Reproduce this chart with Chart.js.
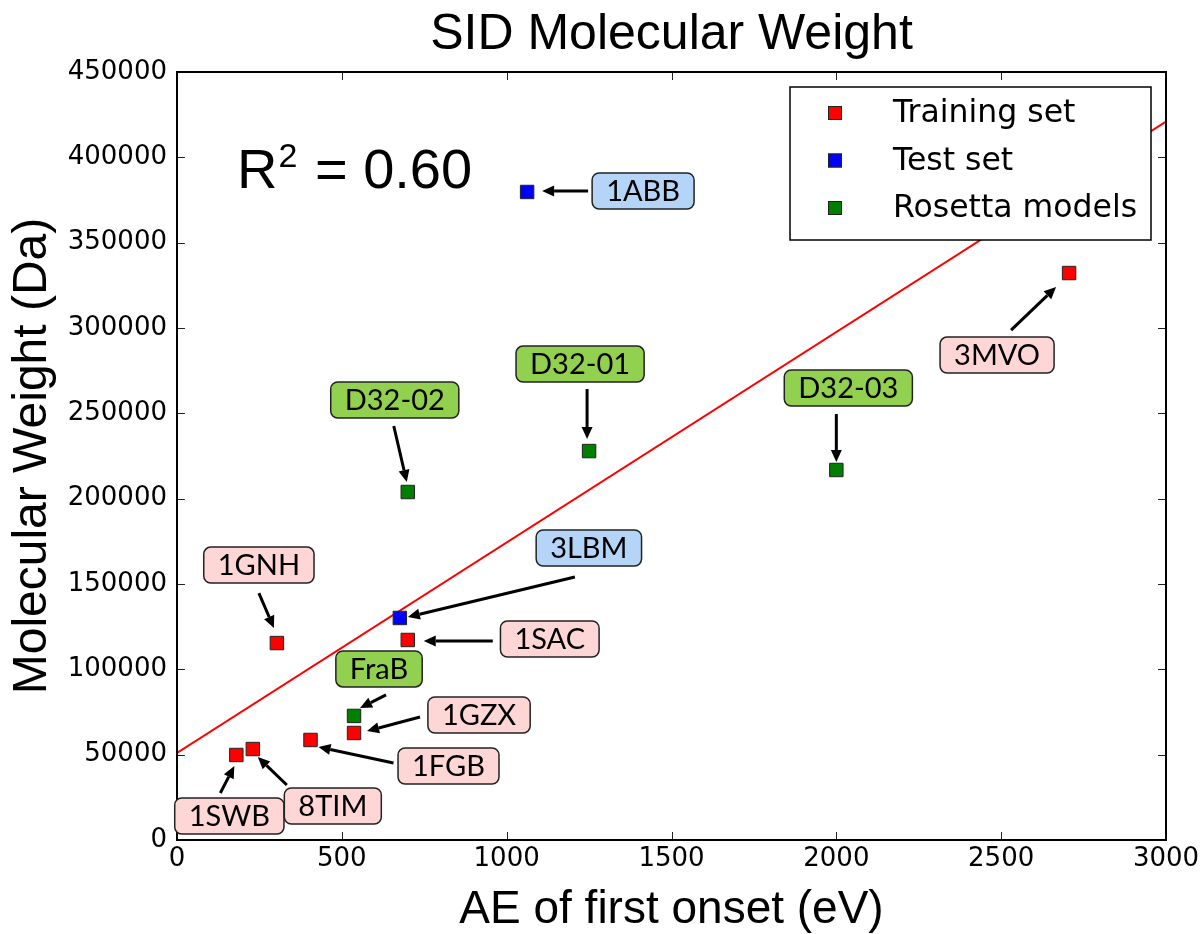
<!DOCTYPE html>
<html>
<head>
<meta charset="utf-8">
<title>SID Molecular Weight</title>
<script src="https://cdn.jsdelivr.net/npm/chart.js@4.4.1/dist/chart.umd.min.js"></script>
<style>
  html, body { margin: 0; padding: 0; background: #fff; }
  #wrap { width: 1204px; height: 934px; }
</style>
</head>
<body>
<div id="wrap"><canvas id="sid_chart" width="1204" height="934"></canvas></div>
<script>
// AE of first onset (eV) against molecular weight (Da)
const training_names = ['1SWB', '8TIM', '1FGB', '1GZX', '1GNH', '1SAC', '3MVO'];
const training_ae = [180, 230, 405, 537, 303, 700, 2706];
const training_mw = [49800, 53300, 58600, 62700, 115400, 117200, 332200];

const test_names = ['1ABB', '3LBM'];
const test_ae = [1062, 676];
const test_mw = [379700, 130100];

const rosetta_names = ['FraB', 'D32-02', 'D32-01', 'D32-03'];
const rosetta_ae = [537, 700, 1250, 2000];
const rosetta_mw = [72700, 203900, 227900, 216800];

// regression line end points
const fit_ae = [0, 3000];
const fit_mw = [51000, 421000];
const r_squared = '0.60';

const x_ticks = [0, 500, 1000, 1500, 2000, 2500, 3000];
const y_ticks = [0, 50000, 100000, 150000, 200000, 250000, 300000, 350000, 400000, 450000];

function toPoints(xs, ys) {
    return xs.map(function (x, i) { return {x: x, y: ys[i]}; });
}

// callout boxes: label centre (lx,ly), arrow tail (tx,ty), arrow tip (hx,hy), pixels from the point
var callouts = {
    '1SWB':   {lx: -7,  ly: 61,  tx: -16, ty: 38,  hx: -2,  hy: 11},
    '8TIM':   {lx: 80,  ly: 57,  tx: 34,  ty: 36,  hx: 5,   hy: 8},
    '1FGB':   {lx: 138, ly: 26,  tx: 83,  ty: 23,  hx: 8,   hy: 7},
    '1GZX':   {lx: 125, ly: -18, tx: 66,  ty: -16, hx: 13,  hy: -2},
    '1GNH':   {lx: -18, ly: -78, tx: -18, ty: -50, hx: -3,  hy: -15},
    '1SAC':   {lx: 142, ly: -1,  tx: 85,  ty: 1,   hx: 16,  hy: 1},
    '3MVO':   {lx: -72, ly: 82,  tx: -58, ty: 57,  hx: -13, hy: 14},
    '1ABB':   {lx: 116, ly: -1,  tx: 61,  ty: -1,  hx: 15,  hy: -1},
    '3LBM':   {lx: 189, ly: -70, tx: 175, ty: -41, hx: 8,   hy: -1},
    'FraB':   {lx: 25,  ly: -47, tx: 32,  ty: -21, hx: 6,   hy: -8},
    'D32-02': {lx: -13, ly: -92, tx: -14, ty: -66, hx: -1,  hy: -10},
    'D32-01': {lx: -9,  ly: -87, tx: -2,  ty: -62, hx: -2,  hy: -12},
    'D32-03': {lx: 12,  ly: -82, tx: 0,   ty: -56, hx: 0,   hy: -8}
};

var set_names = [training_names, test_names, rosetta_names];
var box_colors = ['#ffd6d6', '#b4d5f8', '#92d050'];

function drawArrow(ctx, x1, y1, x2, y2) {
    var ang = Math.atan2(y2 - y1, x2 - x1);
    var head = 12, half = 5.5;
    var bx = x2 - head * Math.cos(ang), by = y2 - head * Math.sin(ang);
    ctx.beginPath();
    ctx.moveTo(x1, y1);
    ctx.lineTo(bx, by);
    ctx.lineWidth = 3;
    ctx.strokeStyle = '#000';
    ctx.stroke();
    ctx.beginPath();
    ctx.moveTo(x2, y2);
    ctx.lineTo(bx + half * Math.sin(ang), by - half * Math.cos(ang));
    ctx.lineTo(bx - half * Math.sin(ang), by + half * Math.cos(ang));
    ctx.closePath();
    ctx.fillStyle = '#000';
    ctx.fill();
}

function roundBox(ctx, x, y, w, h, r) {
    ctx.beginPath();
    ctx.moveTo(x + r, y);
    ctx.arcTo(x + w, y, x + w, y + h, r);
    ctx.arcTo(x + w, y + h, x, y + h, r);
    ctx.arcTo(x, y + h, x, y, r);
    ctx.arcTo(x, y, x + w, y, r);
    ctx.closePath();
}

// frame with inward ticks on all four sides, like the old matplotlib look
var framePlugin = {
    id: 'frame',
    afterDatasetsDraw: function (chart) {
        var ctx = chart.ctx, a = chart.chartArea;
        var xs = chart.scales.x, ys = chart.scales.y;
        ctx.save();
        ctx.strokeStyle = '#222';
        ctx.lineWidth = 1;
        x_ticks.forEach(function (v) {
            var px = Math.round(xs.getPixelForValue(v)) + 0.5;
            ctx.beginPath();
            ctx.moveTo(px, a.bottom); ctx.lineTo(px, a.bottom - 8);
            ctx.moveTo(px, a.top); ctx.lineTo(px, a.top + 8);
            ctx.stroke();
        });
        y_ticks.forEach(function (v) {
            var py = Math.round(ys.getPixelForValue(v)) + 0.5;
            ctx.beginPath();
            ctx.moveTo(a.left, py); ctx.lineTo(a.left + 8, py);
            ctx.moveTo(a.right, py); ctx.lineTo(a.right - 8, py);
            ctx.stroke();
        });
        ctx.lineWidth = 2;
        ctx.strokeStyle = '#000';
        ctx.strokeRect(a.left, a.top, a.right - a.left, a.bottom - a.top);
        ctx.restore();
    }
};

// boxed names with arrows pointing at each point
var calloutPlugin = {
    id: 'callouts',
    afterDatasetsDraw: function (chart) {
        var ctx = chart.ctx;
        var xs = chart.scales.x, ys = chart.scales.y;
        ctx.save();
        ctx.font = '29px Lato';
        ctx.textAlign = 'center';
        ctx.textBaseline = 'middle';
        for (var d = 0; d < 3; d++) {
            var pts = chart.data.datasets[d].data;
            set_names[d].forEach(function (name, i) {
                var c = callouts[name];
                var px = xs.getPixelForValue(pts[i].x);
                var py = ys.getPixelForValue(pts[i].y);
                drawArrow(ctx, px + c.tx, py + c.ty, px + c.hx, py + c.hy);
                var w = ctx.measureText(name).width + 28, h = 36;
                var bx = px + c.lx - w / 2, by = py + c.ly - h / 2;
                roundBox(ctx, bx, by, w, h, 7);
                ctx.fillStyle = box_colors[d];
                ctx.fill();
                ctx.lineWidth = 1.5;
                ctx.strokeStyle = '#222';
                ctx.stroke();
                ctx.fillStyle = '#000';
                ctx.fillText(name, px + c.lx, py + c.ly + 1);
            });
        }
        ctx.restore();
    }
};

// legend box in the upper right and the R^2 note
var notesPlugin = {
    id: 'notes',
    afterDraw: function (chart) {
        var ctx = chart.ctx, a = chart.chartArea;
        ctx.save();
        // R^2
        var x0 = a.left + 60, base = a.top + 116;
        ctx.fillStyle = '#000';
        ctx.textBaseline = 'alphabetic';
        ctx.textAlign = 'left';
        ctx.font = '56px "Liberation Sans"';
        ctx.fillText('R', x0, base);
        var rw = ctx.measureText('R').width;
        ctx.font = '34px "Liberation Sans"';
        ctx.fillText('2', x0 + rw + 1, base - 21);
        var sw = ctx.measureText('2').width;
        ctx.font = '56px "Liberation Sans"';
        ctx.fillText(' = ' + r_squared, x0 + rw + sw + 3, base);

        // legend
        var lx = a.right - 376, ly = a.top + 15, lw = 361, lh = 153;
        ctx.fillStyle = '#fff';
        ctx.fillRect(lx, ly, lw, lh);
        ctx.lineWidth = 1.5;
        ctx.strokeStyle = '#000';
        ctx.strokeRect(lx, ly, lw, lh);
        ctx.font = '31.5px "DejaVu Sans"';
        ctx.textBaseline = 'middle';
        for (var d = 0; d < 3; d++) {
            var ds = chart.data.datasets[d];
            var cy = ly + 26 + d * 47.5;
            ctx.fillStyle = ds.backgroundColor;
            ctx.fillRect(lx + 38, cy - 7, 14, 14);
            ctx.lineWidth = 1;
            ctx.strokeStyle = '#222';
            ctx.strokeRect(lx + 38.5, cy - 6.5, 13, 13);
            ctx.fillStyle = '#000';
            ctx.fillText(ds.label, lx + 103, cy + 1);
        }
        ctx.restore();
    }
};

var pointStyle = {pointStyle: 'rect', pointRadius: 9.5, pointHoverRadius: 9.5, borderWidth: 1, borderColor: '#222'};

new Chart(document.getElementById('sid_chart'), {
    type: 'scatter',
    data: {
        datasets: [
            Object.assign({label: 'Training set', data: toPoints(training_ae, training_mw), backgroundColor: '#ff0000', order: 1}, pointStyle),
            Object.assign({label: 'Test set', data: toPoints(test_ae, test_mw), backgroundColor: '#0000ff', order: 1}, pointStyle),
            Object.assign({label: 'Rosetta models', data: toPoints(rosetta_ae, rosetta_mw), backgroundColor: '#007f00', order: 1}, pointStyle),
            {
                type: 'line', label: 'fit', data: toPoints(fit_ae, fit_mw),
                borderColor: '#ff0000', borderWidth: 2, pointRadius: 0, fill: false, order: 5
            }
        ]
    },
    options: {
        responsive: false,
        animation: false,
        devicePixelRatio: 1,
        layout: {padding: {left: 0, right: 38, top: 0, bottom: 0}},
        plugins: {
            legend: {display: false},
            tooltip: {enabled: false},
            title: {
                display: true,
                text: 'SID Molecular Weight',
                color: '#000',
                fullSize: false,
                font: {family: 'Liberation Sans', size: 50, weight: 'normal', lineHeight: 1},
                padding: {top: 10, bottom: 12}
            }
        },
        scales: {
            x: {
                type: 'linear', min: 0, max: 3000,
                afterBuildTicks: function (s) { s.ticks = x_ticks.map(function (v) { return {value: v}; }); },
                afterFit: function (s) { s.height = 94; },
                grid: {display: false, drawTicks: false},
                border: {display: false},
                ticks: {color: '#000', padding: 4, maxRotation: 0, font: {family: 'DejaVu Sans', size: 26},
                        callback: function (v) { return String(v); }},
                title: {display: true, text: 'AE of first onset (eV)', color: '#000',
                        font: {family: 'Liberation Sans', size: 46, lineHeight: 1}, padding: {top: 0, bottom: 1}}
            },
            y: {
                type: 'linear', min: 0, max: 450000,
                afterBuildTicks: function (s) { s.ticks = y_ticks.map(function (v) { return {value: v}; }); },
                afterFit: function (s) { s.width = 177; },
                grid: {display: false, drawTicks: false},
                border: {display: false},
                ticks: {color: '#000', padding: 10, font: {family: 'DejaVu Sans', size: 26},
                        callback: function (v) { return String(v); }},
                title: {display: true, text: 'Molecular Weight (Da)', color: '#000',
                        font: {family: 'Liberation Sans', size: 48, lineHeight: 1}, padding: {top: 9, bottom: 0}}
            }
        }
    },
    plugins: [framePlugin, calloutPlugin, notesPlugin]
});
</script>
</body>
</html>
